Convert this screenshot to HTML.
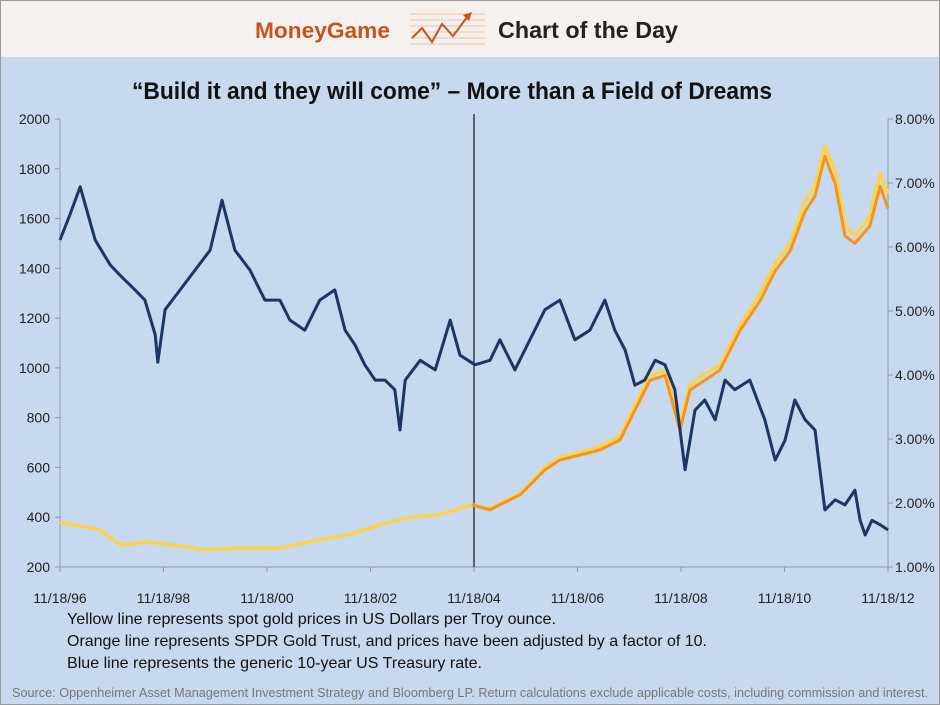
<!DOCTYPE html>
<html><head><meta charset="utf-8"><style>
body{margin:0;width:940px;height:705px;overflow:hidden;font-family:"Liberation Sans",sans-serif}
</style></head><body>
<svg width="940" height="705" viewBox="0 0 940 705" style="display:block">
<rect x="0" y="0" width="940" height="57" fill="#f5f1ee"/>
<rect x="0" y="57" width="940" height="648" fill="#c6d9ef"/>
<rect x="0.5" y="0.5" width="939" height="704" fill="none" stroke="#999"/>
<text x="255" y="38" font-size="22" font-weight="bold" fill="#c9531f" textLength="135" lengthAdjust="spacingAndGlyphs">MoneyGame</text>
<g>
<g stroke="#f3c4a8" stroke-width="1"><line x1="410" y1="14" x2="485" y2="14"/><line x1="410" y1="20" x2="485" y2="20"/><line x1="410" y1="26" x2="485" y2="26"/><line x1="410" y1="32" x2="485" y2="32"/><line x1="410" y1="38" x2="485" y2="38"/><line x1="410" y1="44" x2="485" y2="44"/></g>
<polyline points="412,38 422,28 432,42 442,24 453,36 468,16" fill="none" stroke="#c9531f" stroke-width="2"/>
<polygon points="472,12 463,15 469,21" fill="#c9531f"/>
</g>
<text x="498" y="38" font-size="23" font-weight="bold" fill="#222" textLength="180" lengthAdjust="spacingAndGlyphs">Chart of the Day</text>
<text x="452" y="99" font-size="24" font-weight="bold" fill="#111" text-anchor="middle" textLength="640" lengthAdjust="spacingAndGlyphs">“Build it and they will come” – More than a Field of Dreams</text>
<g id="axes"></g>
<g id="marks"></g>
<text x="67" y="624" font-size="16" fill="#111" textLength="489" lengthAdjust="spacingAndGlyphs">Yellow line represents spot gold prices in US Dollars per Troy ounce.</text>
<text x="67" y="646" font-size="16" fill="#111" textLength="640" lengthAdjust="spacingAndGlyphs">Orange line represents SPDR Gold Trust, and prices have been adjusted by a factor of 10.</text>
<text x="67" y="668" font-size="16" fill="#111" textLength="415" lengthAdjust="spacingAndGlyphs">Blue line represents the generic 10-year US Treasury rate.</text>
<text x="12" y="697" font-size="13" fill="#777" textLength="916" lengthAdjust="spacingAndGlyphs">Source: Oppenheimer Asset Management Investment Strategy and Bloomberg LP. Return calculations exclude applicable costs, including commission and interest.</text>
</svg>
<script>
const leftTicks=[200,400,600,800,1000,1200,1400,1600,1800,2000];
const rightTicks=[1,2,3,4,5,6,7,8];
const xTickLabels=["11/18/96","11/18/98","11/18/00","11/18/02","11/18/04","11/18/06","11/18/08","11/18/10","11/18/12"];
const markerYear=8;
const rateYears=[0,0.19,0.39,0.68,0.97,1.16,1.45,1.64,1.84,1.89,2.03,2.32,2.61,2.90,3.13,3.38,3.67,3.96,4.25,4.44,4.73,5.02,5.31,5.51,5.70,5.89,6.09,6.28,6.47,6.57,6.67,6.96,7.25,7.54,7.73,8.02,8.31,8.50,8.79,9.08,9.37,9.66,9.95,10.24,10.53,10.72,10.92,11.11,11.30,11.50,11.69,11.88,12.08,12.27,12.46,12.66,12.85,13.04,13.33,13.62,13.82,14.01,14.20,14.40,14.59,14.78,14.98,15.17,15.36,15.46,15.56,15.69,15.85,16.0];
const rateValues=[6.11,6.50,6.94,6.11,5.72,5.56,5.33,5.17,4.63,4.20,5.02,5.33,5.64,5.95,6.73,5.95,5.64,5.17,5.17,4.86,4.70,5.17,5.33,4.70,4.47,4.16,3.92,3.92,3.77,3.14,3.92,4.23,4.08,4.86,4.31,4.16,4.23,4.55,4.08,4.55,5.02,5.17,4.55,4.70,5.17,4.70,4.39,3.84,3.92,4.23,4.16,3.77,2.52,3.45,3.61,3.30,3.92,3.77,3.92,3.30,2.67,2.98,3.61,3.30,3.14,1.89,2.05,1.97,2.20,1.73,1.50,1.73,1.66,1.58];
const goldYears=[0,0.77,1.16,1.74,2.51,2.71,3.48,4.25,5.02,5.60,6.18,6.76,7.34,7.96,8.31,8.89,9.37,9.66,10.05,10.43,10.82,11.11,11.40,11.69,11.98,12.17,12.46,12.75,13.14,13.53,13.82,14.11,14.40,14.59,14.78,14.98,15.17,15.36,15.65,15.85,16.0];
const goldValues=[380,350,290,300,280,270,275,275,310,330,370,400,410,450,435,495,600,640,660,685,725,850,970,990,770,930,975,1010,1170,1300,1420,1500,1670,1730,1890,1790,1570,1530,1610,1780,1700];
const etfYears=[7.96,8.31,8.89,9.37,9.66,10.05,10.43,10.82,11.11,11.40,11.69,11.98,12.17,12.46,12.75,13.14,13.53,13.82,14.11,14.40,14.59,14.78,14.98,15.17,15.36,15.65,15.85,16.0];
const etfValues=[450,430,490,590,630,650,670,710,830,950,970,750,910,950,990,1150,1270,1390,1470,1630,1690,1850,1740,1530,1500,1570,1730,1640];
const X0=60,X1=888,Y0=567,Y1=119;
const xs=t=>X0+(X1-X0)*t/16;
const yL=v=>Y0-(Y0-Y1)*(v-200)/1800;
const yR=v=>Y0-(Y0-Y1)*(v-1)/7;
const NS="http://www.w3.org/2000/svg";
function mk(tag,attrs,parent){const e=document.createElementNS(NS,tag);for(const k in attrs)e.setAttribute(k,attrs[k]);parent.appendChild(e);return e;}
const axes=document.getElementById('axes'),marks=document.getElementById('marks');
let e;
e=mk('line',{x1:X0,y1:Y1,x2:X0,y2:Y0,stroke:'#8a9bb0'},axes);


e=mk('line',{x1:X1,y1:Y1,x2:X1,y2:Y0,stroke:'#8a9bb0'},axes);


e=mk('line',{x1:X0,y1:Y0,x2:X1,y2:Y0,stroke:'#8a9bb0'},axes);


leftTicks.forEach(v=>{mk('line',{x1:X0-5,y1:yL(v),x2:X0,y2:yL(v),stroke:'#8a9bb0'},axes);
const t=mk('text',{x:X0-10,y:yL(v)+5,'font-size':14,fill:'#222','text-anchor':'end'},axes);t.textContent=v;

});
rightTicks.forEach(v=>{mk('line',{x1:X1,y1:yR(v),x2:X1+5,y2:yR(v),stroke:'#8a9bb0'},axes);
const t=mk('text',{x:X1+7,y:yR(v)+5,'font-size':14,fill:'#222'},axes);t.textContent=v.toFixed(2)+'%';

});
xTickLabels.forEach((l,i)=>{const x=xs(i*2);mk('line',{x1:x,y1:Y0,x2:x,y2:Y0+5,stroke:'#8a9bb0'},axes);
const t=mk('text',{x:x,y:Y0+36,'font-size':14,fill:'#222','text-anchor':'middle'},axes);t.textContent=l;

});
e=mk('line',{x1:xs(markerYear),y1:Y1-5,x2:xs(markerYear),y2:Y0,stroke:'#222','stroke-width':1.3},marks);


function line(xa,ya,yf,color,w,name){const p=xa.map((t,i)=>xs(t).toFixed(1)+','+yf(ya[i]).toFixed(1)).join(' ');
const l=mk('polyline',{points:p,fill:'none',stroke:color,'stroke-width':w,'stroke-linejoin':'round'},marks);

}
line(goldYears,goldValues,yL,'#fdd34a',3.5,'gold-spot-line');
line(etfYears,etfValues,yL,'#f7941d',3,'spdr-gold-line');
line(rateYears,rateValues,yR,'#1c3660',3,'treasury-rate-line');
</script>
</body></html>
